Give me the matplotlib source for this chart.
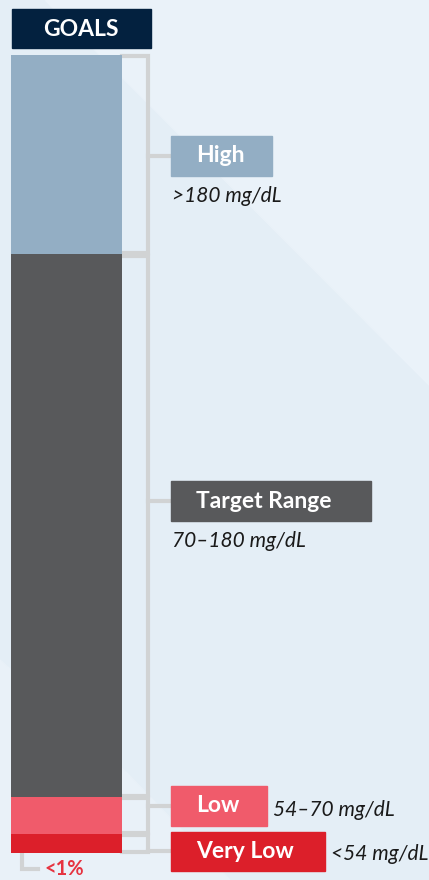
import matplotlib
matplotlib.use("Agg")
import matplotlib.pyplot as plt
from matplotlib.patches import Rectangle, Polygon
from matplotlib import transforms

plt.rcParams['font.family'] = ['Lato', 'DejaVu Sans']

# segment data, bottom to top
segments = ['Very Low', 'Low', 'Target Range', 'High']
goals = ['<1%', '<4%', '>70%', '<25%']
ranges = ['<54 mg/dL', '54–70 mg/dL', '70–180 mg/dL', '>180 mg/dL']
# visual share of the bar
shares = [2.4, 4.6, 68, 25]
colors = ['#dc1f2a', '#f05b6b', '#58595b', '#93aec4']

bracket_col = '#d1d3d4'
red_text = '#e63340'

W, H = 429, 880
fig = plt.figure(figsize=(W / 100, H / 100), dpi=100)

# overlay axes in pixel coords
bg = fig.add_axes([0, 0, 1, 1])
bg.set_xlim(0, W)
bg.set_ylim(H, 0)
bg.axis('off')
bg.add_patch(Rectangle((0, 0), W, H, color='#e4eef6', zorder=0))
bg.add_patch(Polygon([(45, 0), (W, 0), (W, 385)], color='#eaf2f9', zorder=0))
bg.add_patch(Polygon([(0, 660), (127, 773), (230, 880), (0, 880)], color='#e9f1f8', zorder=0))

# GOALS header
bg.add_patch(Rectangle((12, 9), 139, 39, color='#03213f', zorder=2))
bg.text(81, 29, 'GOALS', color='white', fontsize=16.5, fontweight='bold',
        ha='center', va='center', zorder=3)

# stacked bar
ax = fig.add_axes([11 / W, (H - 853) / H, 111 / W, 798 / H])
ax.set_xlim(0, 1)
ax.set_ylim(0, sum(shares))
ax.axis('off')
ax.patch.set_alpha(0)
bottom = 0
trans = transforms.blended_transform_factory(ax.transAxes, ax.transData)
bx = 1 + 26 / 111
d = 0.15
for s, c in zip(shares, colors):
    ax.bar(0.5, s, width=1.0, bottom=bottom, color=c, zorder=2)
    top = bottom + s
    ax.plot([1.0, bx, bx, 1.0], [top - d, top - d, bottom + d, bottom + d],
            color=bracket_col, lw=3, transform=trans, clip_on=False,
            solid_joinstyle='miter', zorder=1)
    bottom = top

# labels inside the bar
bg.text(66, 157, goals[3], color='white', fontsize=19, fontweight='bold',
        ha='center', va='center', zorder=4)
bg.text(66, 504, goals[2], color='white', fontsize=19, fontweight='bold',
        ha='center', va='center', zorder=4)
bg.text(66, 818, goals[1], color='white', fontsize=14.5, fontweight='bold',
        ha='center', va='center', zorder=4)

# <1% pointer
bg.plot([22, 22, 38], [845, 869, 869], color=bracket_col, lw=3, zorder=3,
        solid_joinstyle='miter')
bg.text(45, 879, goals[0], color=red_text, fontsize=14.5, fontweight='bold',
        ha='left', va='bottom', zorder=4)

# category boxes: (x, y, w, h) in pixels
boxes = {
    'High': (171, 136, 101, 40),
    'Target Range': (171, 481, 200, 40),
    'Low': (171, 786, 96, 40),
    'Very Low': (171, 832, 154, 39),
}
for name, c, rng in zip(segments, colors, ranges):
    x, y, w, h = boxes[name]
    cy = y + h / 2
    bg.plot([148, x], [cy, cy], color=bracket_col, lw=3, zorder=1)
    bg.add_patch(Rectangle((x, y), w, h, color=c, zorder=2))
    bg.text(x + 25, cy, name, color='white', fontsize=16.5, fontweight='bold',
            ha='left', va='center', zorder=3)
    if name in ('High', 'Target Range'):
        bg.text(x + 1, y + h + 20, rng, fontsize=15, style='italic',
                color='#1a1a1a', ha='left', va='center', zorder=3)
    else:
        bg.text(x + w + 6, cy + (4 if name == 'Low' else 2), rng, fontsize=15,
                style='italic', color='#1a1a1a', ha='left', va='center', zorder=3)

fig.savefig('out.png', dpi=100)
